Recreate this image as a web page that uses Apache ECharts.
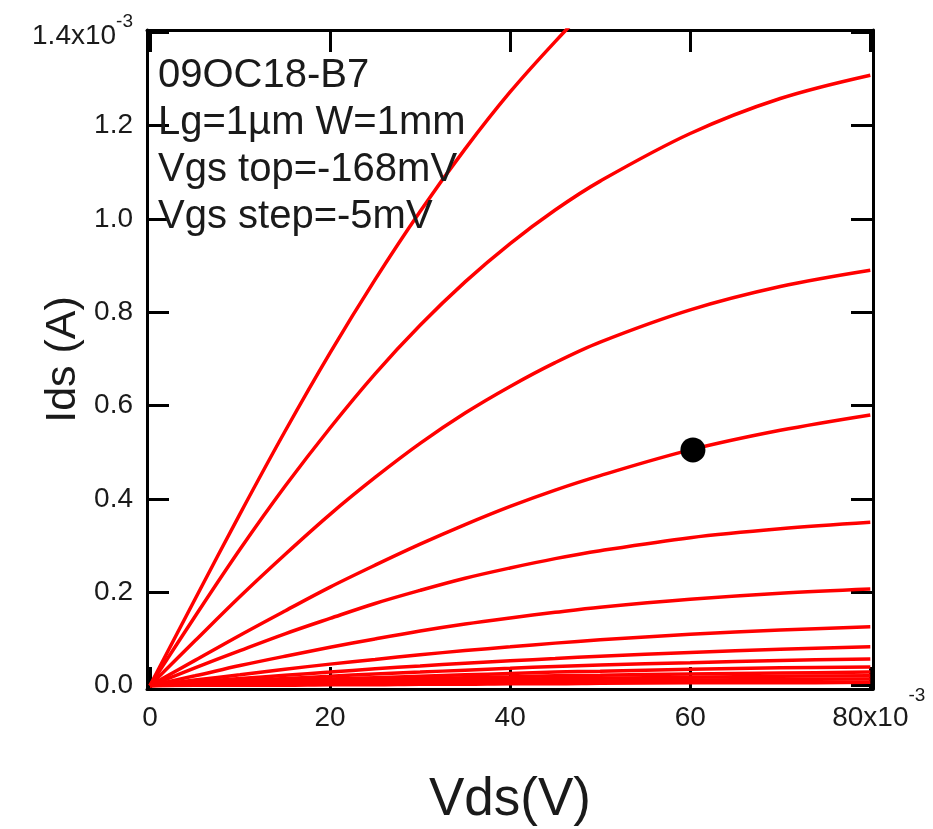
<!DOCTYPE html>
<html>
<head>
<meta charset="utf-8">
<script src="https://cdn.jsdelivr.net/npm/echarts@6/dist/echarts.min.js"></script>
<style>
  html, body { margin: 0; padding: 0; background: #fff; }
  #chart { width: 933px; height: 829px; }
</style>
</head>
<body>
<div id="chart"></div>
<script>
// Vds in mV (axis shows x10^-3 V), Ids in 1e-3 A
const vds = [0, 5, 10, 15, 20, 25, 30, 35, 40, 45, 50, 60, 70, 80];

const idsA = [0, 0.185, 0.368, 0.545, 0.713, 0.870, 1.016, 1.150, 1.272, 1.380, 1.48, null, null, null];
const idsB = [0, 0.148, 0.292, 0.427, 0.552, 0.668, 0.772, 0.865, 0.947, 1.019, 1.081, 1.183, 1.258, 1.308];
const idsC = [0, 0.096, 0.191, 0.281, 0.367, 0.446, 0.519, 0.584, 0.641, 0.692, 0.736, 0.805, 0.855, 0.89];
const idsD = [0, 0.054, 0.108, 0.160, 0.211, 0.258, 0.303, 0.345, 0.384, 0.419, 0.450, 0.505, 0.547, 0.58];
const idsE = [0, 0.038, 0.075, 0.111, 0.144, 0.176, 0.204, 0.230, 0.252, 0.272, 0.289, 0.317, 0.336, 0.35];
const idsF = [0, 0.021, 0.043, 0.063, 0.082, 0.100, 0.117, 0.132, 0.145, 0.157, 0.168, 0.185, 0.198, 0.207];
const idsG = [0, 0.012, 0.023, 0.035, 0.046, 0.056, 0.066, 0.075, 0.083, 0.091, 0.098, 0.110, 0.119, 0.126];
const idsH = [0, 0.008, 0.015, 0.022, 0.029, 0.036, 0.042, 0.048, 0.053, 0.058, 0.063, 0.071, 0.078, 0.083];
const idsI = [0, 0.005, 0.010, 0.015, 0.020, 0.025, 0.029, 0.033, 0.037, 0.041, 0.044, 0.049, 0.054, 0.057];
const idsJ = [0, 0.004, 0.007, 0.011, 0.014, 0.017, 0.020, 0.023, 0.026, 0.029, 0.031, 0.035, 0.038, 0.040];
const idsK = [0, 0.003, 0.005, 0.008, 0.010, 0.013, 0.015, 0.017, 0.019, 0.021, 0.022, 0.025, 0.027, 0.029];
const idsL = [0, 0.002, 0.004, 0.006, 0.007, 0.009, 0.010, 0.012, 0.013, 0.015, 0.016, 0.018, 0.020, 0.021];
const idsM = [0, 0.001, 0.002, 0.003, 0.004, 0.005, 0.006, 0.007, 0.008, 0.009, 0.010, 0.012, 0.013, 0.014];
const idsN = [0, 0.001, 0.001, 0.001, 0.002, 0.002, 0.003, 0.003, 0.004, 0.004, 0.005, 0.006, 0.006, 0.007];

const curves = [idsA, idsB, idsC, idsD, idsE, idsF, idsG, idsH, idsI, idsJ, idsK, idsL, idsM, idsN];

// marked bias point
const markVds = [60.3];
const markIds = [0.505];

const xTicks = [0, 20, 40, 60, 80];
const xTickLabels = ['0', '20', '40', '60', '80x10'];
const yTicks = [0, 0.2, 0.4, 0.6, 0.8, 1.0, 1.2, 1.4];
const yTickLabels = ['0.0', '0.2', '0.4', '0.6', '0.8', '1.0', '1.2', '1.4x10'];
const exponent = '-3';

const notes = ['09OC18-B7', 'Lg=1µm W=1mm', 'Vgs top=-168mV', 'Vgs step=-5mV'];

const FONT = "'Liberation Sans', Arial, sans-serif";
const INK = '#1a1a1a';

const chart = echarts.init(document.getElementById('chart'));

const pick = (ticks, labels, v) => {
  const i = ticks.findIndex(t => Math.abs(t - v) < 1e-6);
  return i < 0 ? '' : labels[i];
};

const frameLine = { show: true, onZero: false, lineStyle: { color: '#000', width: 3 } };
const frameTick = { show: true, inside: true, length: 22, lineStyle: { color: '#000', width: 3 } };

const series = curves.map(ys => ({
  type: 'line',
  data: vds.map((x, i) => [x, ys[i]]),
  showSymbol: false,
  smooth: 0.35,
  lineStyle: { color: '#ff0000', width: 3.5 },
  z: 2
}));

series.push({
  type: 'scatter',
  data: markVds.map((x, i) => [x, markIds[i]]),
  symbol: 'circle',
  symbolSize: 25,
  itemStyle: { color: '#000', opacity: 1 },
  z: 5
});

const option = {
  backgroundColor: '#fff',
  animation: false,
  grid: { left: 147, top: 30, width: 726, height: 659, containLabel: false, outerBoundsMode: 'none' },
  xAxis: [
    {
      type: 'value',
      position: 'bottom',
      min: -0.33,
      max: 80.3,
      axisLine: frameLine,
      axisTick: Object.assign({ customValues: xTicks }, frameTick),
      splitLine: { show: false },
      axisLabel: {
        customValues: xTicks,
        margin: 3,
        color: INK,
        fontFamily: FONT,
        formatter: v => {
          const t = pick(xTicks, xTickLabels, v);
          return v === 80 ? '{e|' + t + '}{s|' + exponent + '}' : '{b|' + t + '}';
        },
        rich: {
          b: { fontSize: 28, lineHeight: 52, fontFamily: FONT, color: INK },
          e: { fontSize: 28, lineHeight: 52, fontFamily: FONT, color: INK, padding: [0, 0, 0, 17] },
          s: { fontSize: 19, lineHeight: 18, fontFamily: FONT, color: INK, padding: [0, 0, 44, 0] }
        }
      },
      name: 'Vds(V)',
      nameLocation: 'middle',
      nameGap: 85,
      nameMoveOverlap: false,
      nameTextStyle: { fontSize: 53, fontFamily: FONT, color: INK }
    },
    {
      type: 'value',
      position: 'top',
      min: -0.33,
      max: 80.3,
      axisLine: frameLine,
      axisTick: Object.assign({ customValues: xTicks }, frameTick),
      axisLabel: { show: false },
      splitLine: { show: false }
    }
  ],
  yAxis: [
    {
      type: 'value',
      position: 'left',
      min: -0.0073,
      max: 1.4048,
      axisLine: frameLine,
      axisTick: Object.assign({ customValues: yTicks }, frameTick),
      splitLine: { show: false },
      axisLabel: {
        customValues: yTicks,
        margin: 14,
        color: INK,
        fontFamily: FONT,
        fontSize: 28,
        formatter: v => {
          const t = pick(yTicks, yTickLabels, v);
          return Math.abs(v - 1.4) < 1e-6 ? '{c|' + t + '}{s|' + exponent + '}' : t;
        },
        rich: {
          c: { fontSize: 28, lineHeight: 28, fontFamily: FONT, color: INK, padding: [9, 0, 0, 0] },
          s: { fontSize: 19, lineHeight: 18, fontFamily: FONT, color: INK, padding: [0, 0, 21, 0] }
        }
      },
      name: 'Ids (A)',
      nameLocation: 'middle',
      nameGap: 62,
      nameMoveOverlap: false,
      nameTextStyle: { fontSize: 43, fontFamily: FONT, color: INK }
    },
    {
      type: 'value',
      position: 'right',
      min: -0.0073,
      max: 1.4048,
      axisLine: frameLine,
      axisTick: Object.assign({ customValues: yTicks }, frameTick),
      axisLabel: { show: false },
      splitLine: { show: false }
    }
  ],
  graphic: [
    {
      type: 'text',
      left: 158,
      top: 52,
      z: 10,
      style: {
        text: notes.join('\n'),
        fontSize: 40,
        lineHeight: 47,
        fontFamily: FONT,
        fill: INK
      }
    }
  ],
  series: series
};

chart.setOption(option);
</script>
</body>
</html>
